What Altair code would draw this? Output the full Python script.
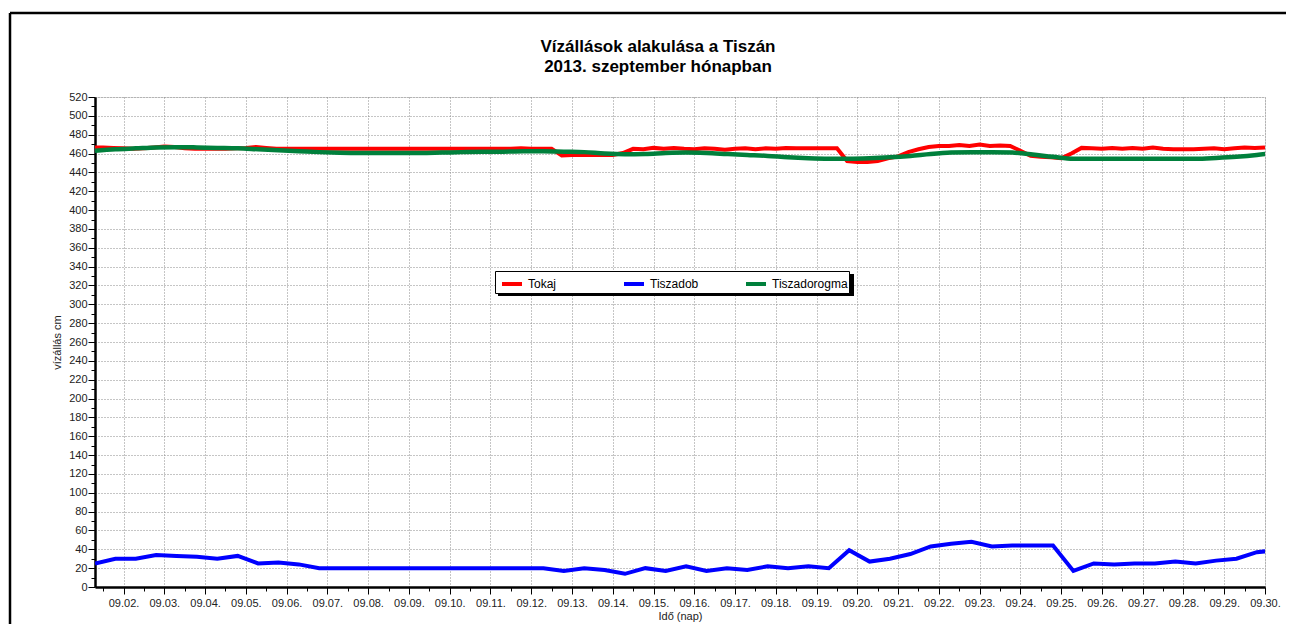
import altair as alt
import pandas as pd

FONT = "Liberation Sans"

series_names = ["Tokaj", "Tiszadob", "Tiszadorogma"]
series_colors = ["#ff0000", "#0000ff", "#00803c"]

# Tokaj: readings every 6 hours, day-of-month (09.01 06:00 .. 09.30 00:00)
tokaj_days = [1.25 + 0.25 * i for i in range(116)]
tokaj_cm = [
    466.5, 466.5, 466, 465.5,      # day 1
    465, 465.5, 466.5, 467.5,      # day 2
    467, 465.5, 465, 465,          # day 3
    465, 465, 465.5, 466,          # day 4
    467, 466, 465, 465,            # day 5
    465, 465, 465, 465,            # day 6
    465, 465, 465, 465,            # day 7
    465, 465, 465, 465,            # day 8
    465, 465, 465, 465,            # day 9
    465, 465, 465, 465,            # day 10
    465, 465, 465.5, 465,          # day 11
    465, 465, 458, 458.5,          # day 12
    458.5, 458.5, 458.5, 458.5,    # day 13
    460.5, 465, 464.5, 466,        # day 14
    465, 466, 465, 464.5,          # day 15
    465.5, 465, 464, 465,          # day 16
    465.5, 464.5, 465.5, 465,      # day 17
    466, 465.5, 465.5, 465.5,      # day 18
    465.5, 465.5, 452, 451,        # day 19
    451, 452, 455, 457,            # day 20
    461.5, 464.5, 467, 468,        # day 21
    468, 469, 468, 469.5,          # day 22
    468, 468.5, 468, 463,          # day 23
    457.5, 456.5, 456, 455,        # day 24
    460, 466, 465.5, 465,          # day 25
    466, 465, 466, 465,            # day 26
    466.5, 465, 464.5, 464.5,      # day 27
    464.5, 465, 465.5, 464.5,      # day 28
    465.5, 466.5, 466, 466.5,      # day 29
]

# Tiszadob: twice-daily readings
tiszadob_days = [1.3 + 0.5 * i for i in range(59)]
tiszadob_cm = [
    25, 30, 30, 34, 33, 32, 30, 33, 25, 26,
    24, 20, 20, 20, 20, 20, 20, 20, 20, 20,
    20, 20, 20, 17, 20, 18, 14, 20, 17, 22,
    17, 20, 18, 22, 20, 22, 20, 39, 27, 30,
    35, 43, 46, 48, 43, 44, 44, 44, 17, 25,
    24, 25, 25, 27, 25, 28, 30, 37, 39,
]

# Tiszadorogma: twice-daily readings
tiszadorogma_days = [1.3 + 0.5 * i for i in range(59)]
tiszadorogma_cm = [
    463, 464.5, 465.5, 466.5, 466.8, 466.5, 466, 465.5, 464.5, 463.5,
    462.5, 461.5, 460.8, 460.5, 460.5, 460.5, 460.5, 461, 461.5, 461.8,
    462, 462.5, 462.5, 462, 461.5, 460, 459.3, 459.5, 460.5, 461,
    460.5, 459.5, 458.5, 457.5, 456, 455, 454.5, 454.5, 455, 456,
    457.5, 459.5, 461, 461.5, 461.5, 461, 459, 456.5, 454.5, 454.5,
    454.5, 454.5, 454.5, 454.5, 454.5, 455.3, 456.5, 458.5, 461.5,
]

x_ticks = [1.5 + 0.5 * i for i in range(58)]
y_ticks = list(range(0, 530, 10))

assert len(tokaj_days) == len(tokaj_cm)
assert len(tiszadob_days) == len(tiszadob_cm)
assert len(tiszadorogma_days) == len(tiszadorogma_cm)

df_tokaj = pd.DataFrame({"nap": tokaj_days, "cm": tokaj_cm, "allomas": "Tokaj"})
df_dob = pd.DataFrame({"nap": tiszadob_days, "cm": tiszadob_cm, "allomas": "Tiszadob"})
df_dor = pd.DataFrame({"nap": tiszadorogma_days, "cm": tiszadorogma_cm, "allomas": "Tiszadorogma"})

minor_x = "datum.value % 1 != 0"
minor_y = "datum.value % 20 != 0"

x_axis = alt.Axis(
    values=x_ticks,
    labelExpr="datum.value % 1 == 0 ? '09.' + (datum.value < 10 ? '0' : '') + datum.value + '.' : ''",
    title="Idő (nap)",
    grid=True,
    gridDash=[1, 2],
    gridColor="#8a8a8a",
    gridOpacity={"condition": {"test": minor_x, "value": 0}, "value": 1},
    tickSize={"condition": {"test": minor_x, "value": 4}, "value": 7},
    tickColor="#000000",
    domainColor="#000000",
    domainWidth=2.5,
    labelFont=FONT,
    labelFontSize=11,
    labelColor="#222222",
    labelPadding=3,
    labelFlush=False,
    labelOverlap=False,
    titleFont=FONT,
    titleFontSize=11,
    titleFontWeight="normal",
    titleColor="#222222",
    titlePadding=2,
)

y_axis = alt.Axis(
    values=y_ticks,
    labelExpr="datum.value % 20 == 0 ? datum.value : ''",
    title="vízállás cm",
    grid=True,
    gridDash=[1, 2],
    gridColor="#8a8a8a",
    gridOpacity={"condition": {"test": minor_y, "value": 0}, "value": 1},
    tickSize={"condition": {"test": minor_y, "value": 4}, "value": 7},
    tickColor="#000000",
    domainColor="#000000",
    domainWidth=2.5,
    labelFont=FONT,
    labelFontSize=11,
    labelColor="#222222",
    labelPadding=1,
    labelOverlap=False,
    labelFlush=False,
    titleFont=FONT,
    titleFontSize=11,
    titleFontWeight="normal",
    titleColor="#222222",
    titlePadding=6,
)

x_enc = alt.X("nap:Q", scale=alt.Scale(domain=[1.3, 30], nice=False, zero=False), axis=x_axis)
y_enc = alt.Y("cm:Q", scale=alt.Scale(domain=[0, 520], nice=False), axis=y_axis)
color_enc = alt.Color(
    "allomas:N",
    scale=alt.Scale(domain=series_names, range=series_colors),
    legend=alt.Legend(
        title=None,
        orient="none",
        legendX=400,
        legendY=174,
        direction="horizontal",
        columns=3,
        gridAlign="all",
        columnPadding=12,
        symbolType="stroke",
        symbolSize=400,
        symbolStrokeWidth=4,
        symbolOffset=4,
        labelOffset=4,
        labelFont=FONT,
        labelFontSize=12,
        labelColor="#000000",
        strokeColor="#000000",
        fillColor="#ffffff",
        padding=1,
        zindex=2,
    ),
)

frame = pd.DataFrame({"k": [0]})
frame_top = alt.Chart(frame).mark_rule(color="#000000", strokeWidth=2.5).encode(
    x=alt.value(-85), x2=alt.value(1300), y=alt.value(-84)
)
frame_left = alt.Chart(frame).mark_rule(color="#000000", strokeWidth=2.5).encode(
    x=alt.value(-85), y=alt.value(-84), y2=alt.value(600)
)
# drop shadow behind the legend box
legend_shadow = alt.Chart(frame).mark_rect(color="#000000").encode(
    x=alt.value(403), x2=alt.value(759), y=alt.value(177), y2=alt.value(199)
)

l_tokaj = alt.Chart(df_tokaj).mark_line(strokeWidth=4, clip=True).encode(x=x_enc, y=y_enc, color=color_enc)
l_dob = alt.Chart(df_dob).mark_line(strokeWidth=4, clip=True).encode(x=x_enc, y=y_enc, color=color_enc)
l_dor = alt.Chart(df_dor).mark_line(strokeWidth=4.5, clip=True, interpolate="monotone").encode(
    x=x_enc, y=y_enc, color=color_enc
)

chart = (
    alt.layer(frame_top, frame_left, legend_shadow, l_tokaj, l_dob, l_dor)
    .properties(
        width=1170,
        height=490,
        autosize=alt.AutoSizeParams(type="none"),
        padding={"left": 87, "top": 89, "right": 21, "bottom": 37},
        title=alt.TitleParams(
            text=["Vízállások alakulása a Tiszán", "2013. szeptember hónapban"],
            font=FONT,
            fontSize=17,
            fontWeight="bold",
            color="#000000",
            anchor="middle",
            dx=-22,
            dy=78,
            offset=14,
            lineHeight=20,
        ),
    )
    .configure_view(stroke="#444444", strokeWidth=1.5)
    .configure(background="#ffffff")
)

chart.save("out.html", embed_options={"renderer": "svg", "actions": False})
